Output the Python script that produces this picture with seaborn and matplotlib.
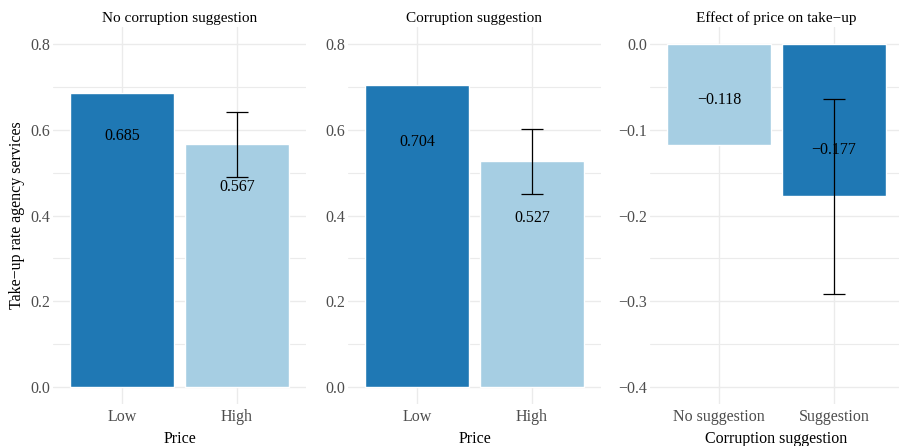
import matplotlib
matplotlib.use("Agg")
import matplotlib.pyplot as plt
import seaborn as sns
import numpy as np
import pandas as pd
from matplotlib.ticker import FuncFormatter

# ---- data ----
price = ["Low", "High"]
no_sugg_rate = [0.685, 0.567]
sugg_rate = [0.704, 0.527]
no_sugg_err_lo = [np.nan, 0.490]
no_sugg_err_hi = [np.nan, 0.642]
sugg_err_lo = [np.nan, 0.450]
sugg_err_hi = [np.nan, 0.603]

suggestion = ["No suggestion", "Suggestion"]
effect = [-0.118, -0.177]
effect_err_lo = [np.nan, -0.292]
effect_err_hi = [np.nan, -0.064]

rate_ticks = [0.0, 0.2, 0.4, 0.6, 0.8]
effect_ticks = [-0.4, -0.3, -0.2, -0.1, 0.0]

titles = ["No corruption suggestion", "Corruption suggestion", "Effect of price on take\u2212up"]
dark = "#1F78B4"
light = "#A6CEE3"

sns.set_theme(style="white")
plt.rcParams["font.family"] = ["Liberation Serif", "DejaVu Serif"]
plt.rcParams["axes.unicode_minus"] = True

W, H = 899, 446
fig = plt.figure(figsize=(W / 100, H / 100), dpi=100)

def ax_at(x0, x1, y0, y1):
    return fig.add_axes([x0 / W, (H - y1) / H, (x1 - x0) / W, (y1 - y0) / H])

def fmtfun(v, p):
    v = round(v, 6)
    if v == 0:
        v = 0.0
    return f"{v:.1f}".replace("-", "\u2212")

fmt = FuncFormatter(fmtfun)

panels = [
    dict(cats=price, vals=no_sugg_rate, lo=no_sugg_err_lo, hi=no_sugg_err_hi,
         pal={"Low": dark, "High": light}, x0=53, off=-0.10, xlabel="Price",
         ylim=(-0.04, 0.84), major=rate_ticks, minor=[0.1, 0.3, 0.5, 0.7]),
    dict(cats=price, vals=sugg_rate, lo=sugg_err_lo, hi=sugg_err_hi,
         pal={"Low": dark, "High": light}, x0=348, off=-0.133, xlabel="Price",
         ylim=(-0.04, 0.84), major=rate_ticks, minor=[0.1, 0.3, 0.5, 0.7]),
    dict(cats=suggestion, vals=effect, lo=effect_err_lo, hi=effect_err_hi,
         pal={"No suggestion": light, "Suggestion": dark}, x0=650, off=0.053,
         xlabel="Corruption suggestion",
         ylim=(-0.42, 0.02), major=effect_ticks, minor=[-0.35, -0.25, -0.15, -0.05]),
]

grid_c = "#EBEBEB"
for i, p in enumerate(panels):
    ax = ax_at(p["x0"], p["x0"] + 253, 27, 404)
    df = pd.DataFrame({"cat": p["cats"], "val": p["vals"]})
    sns.barplot(data=df, x="cat", y="val", hue="cat", palette=p["pal"], order=p["cats"],
                hue_order=p["cats"], width=0.9, dodge=False, legend=False,
                errorbar=None, saturation=1, ax=ax, zorder=2)
    ax.set_xlim(-0.6, 1.6)
    ax.set_ylim(*p["ylim"])
    ax.set_yticks(p["major"])
    ax.set_yticks(p["minor"], minor=True)
    ax.yaxis.set_major_formatter(fmt)
    ax.grid(True, which="major", axis="both", color=grid_c, lw=1.0, zorder=0)
    ax.grid(True, which="minor", axis="y", color=grid_c, lw=0.8, zorder=0)
    ax.set_axisbelow(True)
    for s in ax.spines.values():
        s.set_visible(False)
    ax.tick_params(axis="both", which="both", length=0, labelsize=11.5, labelcolor="#4D4D4D")
    ax.tick_params(axis="y", pad=2)
    ax.tick_params(axis="x", pad=3.5)
    for j, (v, lo, hi) in enumerate(zip(p["vals"], p["lo"], p["hi"])):
        if not np.isnan(lo):
            ax.errorbar(j, (lo + hi) / 2, yerr=(hi - lo) / 2, color="black",
                        elinewidth=0.9, capsize=7.9, capthick=0.9, zorder=3)
        ax.text(j, v + p["off"], f"{v:.3f}".replace("-", "\u2212"), ha="center",
                va="center", fontsize=11.5, color="black", zorder=4)
    ax.set_title(titles[i], fontsize=11, color="black", pad=3.5)
    ax.set_xlabel(p["xlabel"], fontsize=11.5, color="black", labelpad=4.5)
    ax.set_ylabel("")

fig.text(17 / W, (H - 215.5) / H, "Take\u2212up rate agency services", rotation=90,
         ha="center", va="center", fontsize=11.5, color="black")

fig.savefig("out.png", dpi=100)
